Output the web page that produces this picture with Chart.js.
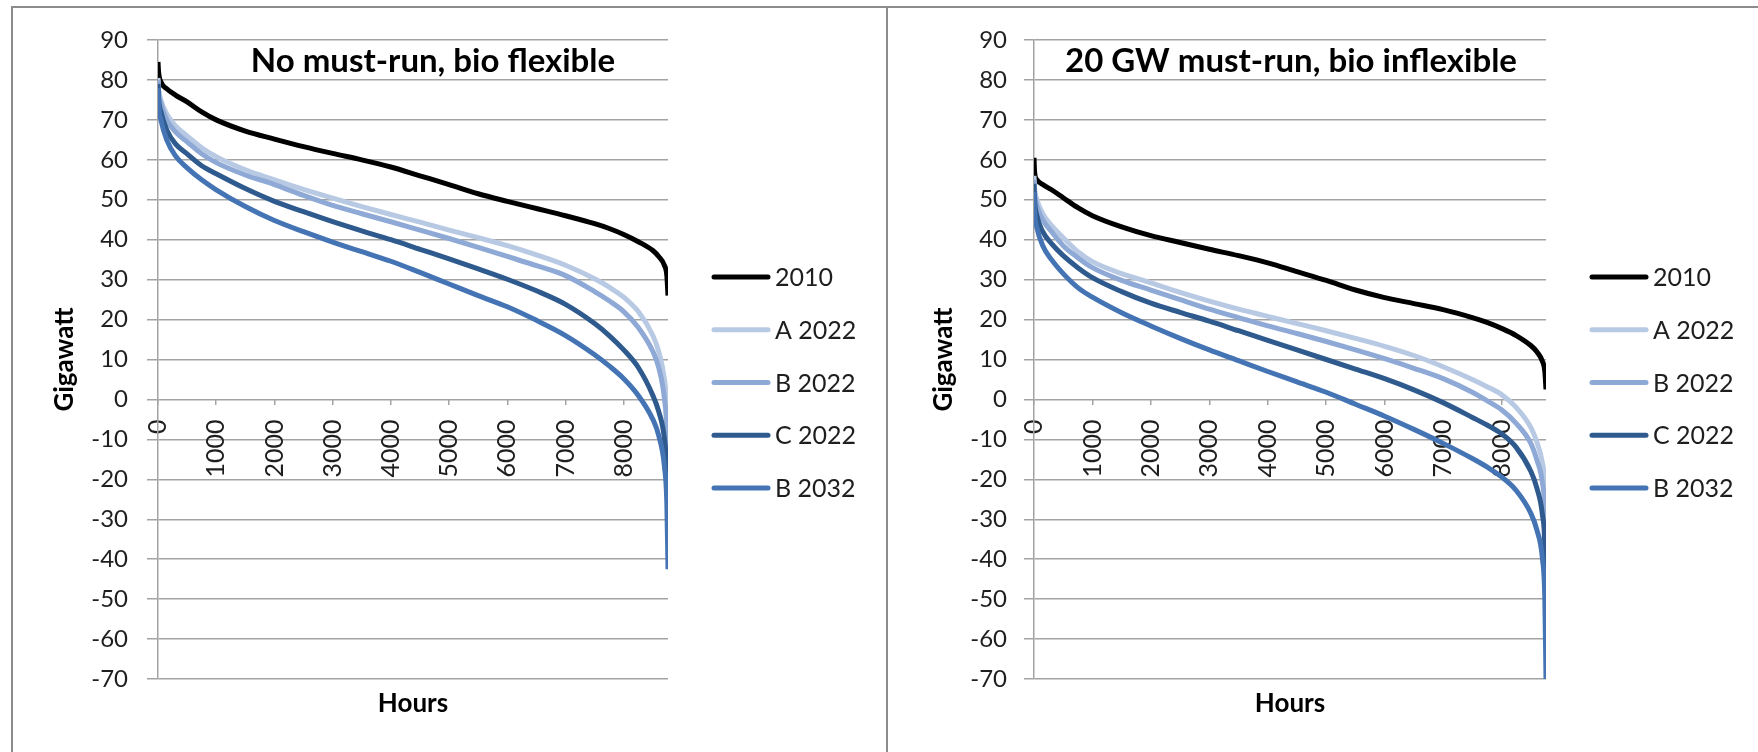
<!DOCTYPE html>
<html>
<head>
<meta charset="utf-8">
<title>Residual load duration curves</title>
<script src="https://cdn.jsdelivr.net/npm/chart.js@4.4.1/dist/chart.umd.min.js"></script>
<style>
  html, body { margin: 0; padding: 0; background: #fff; width: 1758px; height: 752px; overflow: hidden; }
  .frame { position: absolute; box-sizing: border-box; border-color: #8c8c8c; border-style: solid; }
  #frameL { left: 11px; top: 6px; width: 877px; height: 760px; border-width: 2px 2px 0 2px; }
  #frameR { left: 888px; top: 6px; width: 880px; height: 760px; border-width: 2px 0 0 0; }
  canvas { position: absolute; top: 0; }
  #chartL { left: 0; }
  #chartR { left: 889px; }
</style>
</head>
<body>
<div class="frame" id="frameL"></div>
<div class="frame" id="frameR"></div>
<canvas id="chartL" width="887" height="752" style="width:887px;height:752px"></canvas>
<canvas id="chartR" width="869" height="752" style="width:869px;height:752px"></canvas>
<script>
// Hours of the year at which the sorted residual load is sampled
const hours = [0, 10, 50, 150, 300, 500, 750, 1000, 1500, 2000, 2500, 3000, 3500, 4000, 4500,
               5000, 5500, 6000, 6500, 7000, 7500, 7750, 8000, 8250, 8500, 8600, 8700, 8740, 8760];

const seriesNames = ['2010', 'A 2022', 'B 2022', 'C 2022', 'B 2032'];
const seriesColors = ['#000000', '#b8c9e4', '#8ea9d5', '#2e5a8e', '#4474b4'];

const xTickValues = [0, 1000, 2000, 3000, 4000, 5000, 6000, 7000, 8000];
const yRange = { min: -70, max: 90, step: 10 };
const hoursInYear = 8760;

// Scenario 1: no must-run, bio flexible (GW)
const flex2010  = [84.5, 82, 79.5, 77.8, 76.2, 74.5, 72, 70, 67.2, 65.2, 63.3, 61.6, 60, 58.2, 56,
                   53.8, 51.5, 49.6, 47.8, 46, 44, 42.8, 41.3, 39.5, 37.3, 35.8, 33.5, 31, 26];
const flexA2022 = [80.5, 78, 75, 71.5, 68.5, 66, 63, 60.8, 57.5, 55, 52.6, 50.4, 48.3, 46.3, 44.4,
                   42.4, 40.5, 38.5, 36.2, 33.6, 30.2, 28.1, 25.6, 22, 16, 12, 5, -1, -8];
const flexB2022 = [80, 77, 74, 70, 67, 64.5, 61.5, 59.3, 56.2, 53.8, 51.1, 48.6, 46.5, 44.5, 42.4,
                   40.3, 38.1, 35.8, 33.5, 31, 27, 24.7, 22, 18, 12, 8, 0, -8, -22];
const flexC2022 = [79, 75.5, 72, 67.5, 64, 61.5, 58.5, 56.5, 52.8, 49.6, 47, 44.5, 42.2, 40, 37.6,
                   35.2, 32.7, 30.1, 27.2, 23.8, 19, 16, 12.4, 8, 1, -3, -10, -18, -30];
const flexB2032 = [78, 74, 70, 65, 61, 58, 55, 52.5, 48.3, 44.8, 42, 39.4, 37, 34.6, 31.8,
                   28.9, 26, 23.2, 19.8, 16, 11.2, 8.4, 5.2, 1, -5, -9, -17, -26, -42.5];

// Scenario 2: 20 GW must-run, bio inflexible (GW)
const mustRun2010  = [60.5, 57, 55, 53.8, 52.5, 50.5, 48, 46, 43.2, 41, 39.3, 37.6, 36, 34.2, 32,
                      29.8, 27.4, 25.5, 24, 22.5, 20.5, 19.3, 17.8, 16, 13.5, 12, 9.5, 7, 2.5];
const mustRunA2022 = [56, 53, 50, 46.5, 43.5, 40.5, 37, 34.5, 31.5, 29.2, 26.8, 24.6, 22.6, 20.8, 19,
                      17.2, 15.3, 13.3, 11, 8.2, 5, 3.2, 1.2, -2, -7, -10.5, -16, -21, -30];
const mustRunB2022 = [55, 52, 48.5, 45, 42, 38.5, 35.5, 33, 29.8, 27.4, 25, 22.6, 20.5, 18.4, 16.5,
                      14.5, 12.4, 10.2, 7.8, 5.2, 1.8, -0.3, -2.6, -6, -11, -15, -21, -28, -42];
const mustRunC2022 = [54, 50, 46, 42, 39, 36, 33, 30.5, 27, 24.1, 21.8, 19.6, 17.2, 14.8, 12.4,
                      10, 7.6, 5.2, 2.4, -0.8, -4.5, -6.4, -8.6, -12, -18, -22, -29, -37, -55];
const mustRunB2032 = [52, 47, 43, 38.5, 35, 31.5, 28, 25.6, 21.7, 18.4, 15.3, 12.4, 9.7, 7, 4.4,
                      1.8, -1.2, -4.2, -7.5, -11, -14.8, -16.9, -19.4, -22.8, -28.5, -32.5, -40, -50, -70];

const FONT = 'Lato, "Open Sans", sans-serif';
const GRID = '#a3a3a3';
const TEXT = '#1e1e1e';

// Chart heading and the line-sample legend, drawn on top of the plot
const headingAndLegend = {
  id: 'headingAndLegend',
  afterDraw(chart, args, o) {
    const ctx = chart.ctx;
    ctx.save();
    ctx.fillStyle = '#000';
    ctx.font = 'bold 33px ' + FONT;
    ctx.textAlign = 'center';
    ctx.textBaseline = 'alphabetic';
    ctx.fillText(o.title, o.titleX, o.titleY);

    ctx.font = '25px ' + FONT;
    ctx.textAlign = 'left';
    ctx.textBaseline = 'middle';
    ctx.fillStyle = TEXT;
    chart.data.datasets.forEach((ds, i) => {
      const y = o.legendY + i * o.legendGap;
      ctx.strokeStyle = ds.borderColor;
      ctx.lineWidth = 5;
      ctx.lineCap = 'round';
      ctx.beginPath();
      ctx.moveTo(o.legendX + 2, y);
      ctx.lineTo(o.legendX + 56, y);
      ctx.stroke();
      ctx.fillText(ds.label, o.legendX + 63, y + 1);
    });
    ctx.restore();
  }
};

function makeChart(id, values, cfg) {
  const datasets = values.map((vals, i) => ({
    label: seriesNames[i],
    data: hours.map((h, k) => ({ x: h, y: vals[k] })),
    borderColor: seriesColors[i],
    backgroundColor: seriesColors[i],
    borderWidth: 5,
    pointRadius: 0,
    cubicInterpolationMode: 'monotone',
    order: values.length - i
  }));

  return new Chart(document.getElementById(id), {
    type: 'line',
    data: { datasets },
    plugins: [headingAndLegend],
    options: {
      responsive: false,
      animation: false,
      events: [],
      layout: { padding: { left: 0, top: 40, right: cfg.padRight, bottom: 0 } },
      plugins: {
        legend: { display: false },
        tooltip: { enabled: false },
        headingAndLegend: {
          title: cfg.title, titleX: cfg.titleX, titleY: 72,
          legendX: cfg.legendX, legendY: 277, legendGap: 52.75
        }
      },
      scales: {
        x: {
          type: 'linear',
          position: { y: 0 },
          min: 0,
          max: hoursInYear,
          afterBuildTicks: s => { s.ticks = xTickValues.map(v => ({ value: v })); },
          ticks: {
            autoSkip: false,
            minRotation: 90,
            maxRotation: 90,
            padding: 14,
            color: TEXT,
            font: { family: FONT, size: 25 },
            callback: v => String(v)
          },
          grid: { drawOnChartArea: false, drawTicks: true, tickLength: 6, color: GRID, lineWidth: 1.5 },
          border: { display: false }
        },
        hoursAxis: {
          type: 'linear',
          position: 'bottom',
          afterFit: s => { s.height = 73; },
          ticks: { display: false },
          grid: { display: false },
          border: { display: false },
          title: {
            display: true, text: 'Hours', color: '#000',
            font: { family: FONT, size: 26, weight: 'bold' },
            padding: { top: 0, bottom: 33 }
          }
        },
        y: {
          min: yRange.min,
          max: yRange.max,
          afterFit: s => { s.width = cfg.axisWidth; },
          ticks: {
            stepSize: yRange.step,
            padding: cfg.tickPad,
            color: TEXT,
            font: { family: FONT, size: 24 }
          },
          grid: { color: GRID, lineWidth: 1.5, tickLength: cfg.tickLen, drawTicks: true },
          border: { display: true, color: GRID, width: 1.5 },
          title: {
            display: true, text: 'Gigawatt', color: '#000',
            font: { family: FONT, size: 26, weight: 'bold' },
            padding: { top: cfg.titlePad, bottom: 0 }
          }
        }
      }
    }
  });
}

makeChart('chartL', [flex2010, flexA2022, flexB2022, flexC2022, flexB2032], {
  title: 'No must-run, bio flexible', titleX: 433,
  padRight: 219, axisWidth: 158, tickPad: 19, tickLen: 11, titlePad: 49, legendX: 712
});

makeChart('chartR', [mustRun2010, mustRunA2022, mustRunB2022, mustRunC2022, mustRunB2032], {
  title: '20 GW must-run, bio inflexible', titleX: 402,
  padRight: 212, axisWidth: 145, tickPad: 17, tickLen: 10, titlePad: 39, legendX: 701
});
</script>
</body>
</html>
